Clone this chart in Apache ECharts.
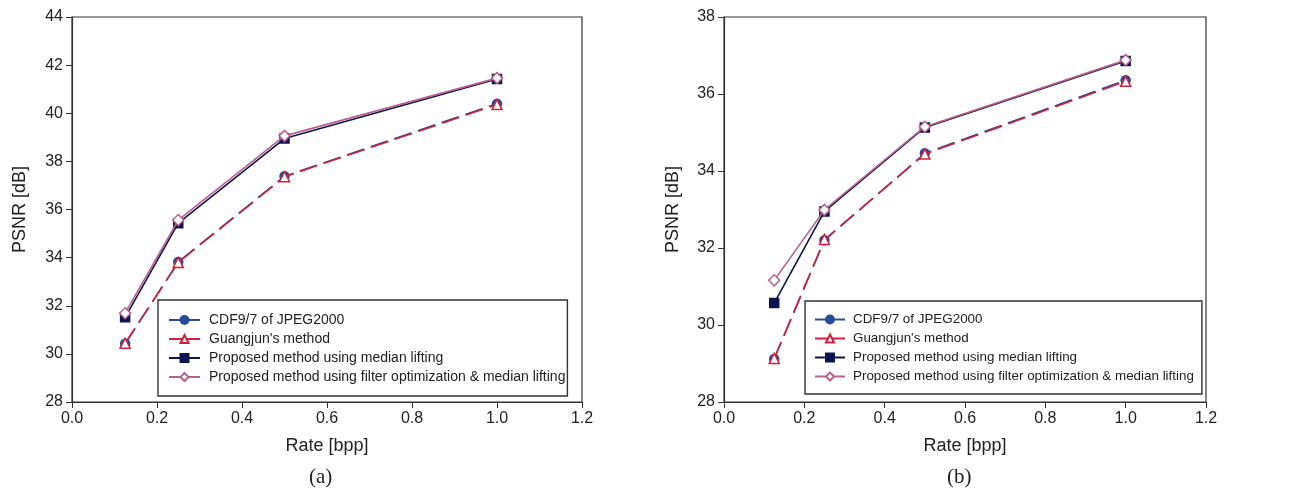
<!DOCTYPE html>
<html>
<head>
<meta charset="utf-8">
<script src="https://cdn.jsdelivr.net/npm/echarts@6/dist/echarts.min.js"></script>
<style>
html,body{margin:0;padding:0;background:#fff;}
#c{width:1293px;height:491px;}
</style>
</head>
<body>
<div id="c"></div>
<script>
const rates = [0.125, 0.25, 0.5, 1.0];
const xTicks = [0.0, 0.2, 0.4, 0.6, 0.8, 1.0, 1.2];
const seriesNames = ["CDF9/7 of JPEG2000", "Guangjun's method", "Proposed method using median lifting", "Proposed method using filter optimization & median lifting"];

// Panel (a)
const a_cdf = [30.42, 33.82, 37.38, 40.40];
const a_guang = [30.44, 33.80, 37.36, 40.36];
const a_median = [31.52, 35.43, 38.95, 41.42];
const a_filter = [31.69, 35.56, 39.06, 41.46];

// Panel (b)
const b_cdf = [29.12, 32.20, 34.46, 36.36];
const b_guang = [29.13, 32.22, 34.44, 36.33];
const b_median = [30.57, 32.95, 35.13, 36.86];
const b_filter = [31.16, 32.99, 35.15, 36.88];

const FONT = "Liberation Sans";
const pair = (xs, ys) => xs.map((x, i) => [x, ys[i]]);

const styles = [
  {symbol: 'circle', size: 9, color: '#2a4a9a', line: '#2a4a9a', fill: '#2a4a9a', type: [18, 7], width: 1.6},
  {symbol: 'triangle', size: 10, color: '#d0203c', line: '#d0203c', fill: '#ffffff', type: [18, 7], width: 1.6},
  {symbol: 'rect', size: 9, color: '#0c1450', line: '#0c1450', fill: '#0c1450', type: 'solid', width: 1.6},
  {symbol: 'diamond', size: 11, color: '#b8608e', line: '#b8608e', fill: '#ffffff', type: 'solid', width: 1.6}
];

function mkSeries(idx, datasets) {
  return datasets.map((d, i) => {
    const s = styles[i];
    return {
      name: seriesNames[i],
      type: 'line',
      xAxisIndex: idx, yAxisIndex: idx,
      data: pair(rates, d),
      symbol: s.symbol,
      symbolSize: s.size,
      showAllSymbol: true,
      color: s.color,
      lineStyle: {color: s.line, width: s.width, type: s.type},
      itemStyle: {color: s.fill, borderColor: s.color, borderWidth: 1.5},
      z: 2 + i,
      animation: false
    };
  });
}

function xAxis(idx) {
  return {
    type: 'value', gridIndex: idx, min: 0, max: 1.2, interval: 0.2,
    name: 'Rate [bpp]', nameLocation: 'middle', nameGap: 35,
    nameTextStyle: {fontFamily: FONT, fontSize: 18, color: '#222'},
    axisLine: {show: true, onZero: false, lineStyle: {color: '#333', width: 1.2}},
    axisTick: {show: true, inside: false, length: 6, lineStyle: {color: '#333'}},
    axisLabel: {fontFamily: FONT, fontSize: 16, color: '#222', margin: 9,
      formatter: v => v.toFixed(1), showMinLabel: true, showMaxLabel: true},
    splitLine: {show: false}
  };
}
function yAxis(idx, min, max, gap) {
  return {
    type: 'value', gridIndex: idx, min: min, max: max, interval: 2,
    name: 'PSNR [dB]', nameLocation: 'middle', nameGap: gap, nameRotate: 90,
    nameTextStyle: {fontFamily: FONT, fontSize: 18, color: '#222'},
    axisLine: {show: true, onZero: false, lineStyle: {color: '#333', width: 1.2}},
    axisTick: {show: true, inside: false, length: 6, lineStyle: {color: '#333'}},
    axisLabel: {fontFamily: FONT, fontSize: 16, color: '#222', margin: 9,
      showMinLabel: true, showMaxLabel: true},
    splitLine: {show: false}
  };
}

const chart = echarts.init(document.getElementById('c'), null, {renderer: 'canvas'});
chart.setOption({
  backgroundColor: '#ffffff',
  animation: false,
  grid: [
    {left: 72, top: 17, width: 510, height: 385, show: true, borderColor: '#333', borderWidth: 1.2, backgroundColor: 'transparent'},
    {left: 724, top: 17, width: 482, height: 385, show: true, borderColor: '#333', borderWidth: 1.2, backgroundColor: 'transparent'}
  ],
  xAxis: [xAxis(0), xAxis(1)],
  yAxis: [yAxis(0, 28, 44, 43), yAxis(1, 28, 38, 42)],
  legend: [
    {
      orient: 'vertical', left: 158, top: 300,
      data: seriesNames,
      itemWidth: 31, itemHeight: 10, itemGap: 5,
      padding: [13, 2, 12, 10],
      borderColor: '#333', borderWidth: 1.4, backgroundColor: '#fff',
      lineStyle: {type: 'solid'},
      textStyle: {fontFamily: FONT, fontSize: 14, color: '#222', padding: [0, 0, 0, 4]},
      z: 10
    },
    {
      orient: 'vertical', left: 805, top: 301,
      data: seriesNames,
      itemWidth: 30, itemHeight: 10, itemGap: 6,
      padding: [12, 8, 11, 9],
      borderColor: '#333', borderWidth: 1.4, backgroundColor: '#fff',
      lineStyle: {type: 'solid'},
      textStyle: {fontFamily: FONT, fontSize: 13.4, color: '#222', padding: [0, 0, 0, 3]},
      z: 10
    }
  ],
  graphic: [
    {type: 'text', left: 309, top: 467, style: {text: '(a)', font: '21px "Liberation Serif"', fill: '#222'}},
    {type: 'text', left: 947, top: 467, style: {text: '(b)', font: '21px "Liberation Serif"', fill: '#222'}}
  ],
  series: [
    ...mkSeries(0, [a_cdf, a_guang, a_median, a_filter]),
    ...mkSeries(1, [b_cdf, b_guang, b_median, b_filter])
  ]
});
</script>
</body>
</html>
